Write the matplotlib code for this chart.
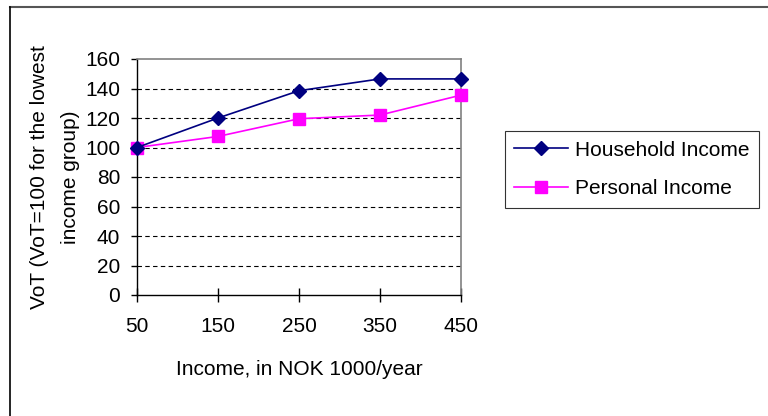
import matplotlib.pyplot as plt
from matplotlib.lines import Line2D

plt.rcParams['font.family'] = ['Liberation Sans', 'DejaVu Sans']

# Income groups (NOK 1000/year) and relative value of time
income = ['50', '150', '250', '350', '450']
household = [100, 120, 138.5, 146.5, 146.5]
personal = [100, 107.5, 119.5, 122, 135.5]
y_ticks = [0, 20, 40, 60, 80, 100, 120, 140, 160]

fig = plt.figure(figsize=(7.68, 4.16), dpi=100)
ax = fig.add_axes([137 / 768, 1 - 295 / 416, 324 / 768, 236 / 416])

x = list(range(len(income)))
ax.plot(x, household, color='#000080', lw=1.2, marker='D', ms=7.5,
        label='Household Income', clip_on=False, zorder=4)
ax.plot(x, personal, color='#FF00FF', lw=1.2, marker='s', ms=9,
        label='Personal Income', clip_on=False, zorder=3)

ax.set_xlim(0, 4)
ax.set_ylim(0, 160)
ax.set_xticks(x)
ax.set_xticklabels(income)
ax.set_yticks(y_ticks)

# dashed horizontal gridlines, Excel style
for v in y_ticks[1:-1]:
    ax.axhline(v, color='black', lw=0.8, dashes=(4, 3), zorder=1)

for s in ['top', 'right']:
    ax.spines[s].set_color('#808080')
    ax.spines[s].set_linewidth(1.2)
for s in ['left', 'bottom']:
    ax.spines[s].set_color('black')
    ax.spines[s].set_linewidth(1.0)

ax.tick_params(axis='x', direction='inout', length=10, width=1, pad=11, labelsize=15)
ax.tick_params(axis='y', direction='out', length=4, width=1, pad=8, labelsize=15)

ax.set_xlabel('Income, in NOK 1000/year', fontsize=15, labelpad=17)
ax.set_ylabel('VoT (VoT=100 for the lowest\nincome group)', fontsize=15,
              labelpad=4, linespacing=1.8)

leg = fig.legend(loc='center', bbox_to_anchor=(632 / 768, 1 - 169.5 / 416),
                 fontsize=15, frameon=True, fancybox=False, edgecolor='black',
                 handlelength=2.6, handletextpad=0.35, labelspacing=0.95,
                 borderpad=0.45)
leg.get_frame().set_linewidth(0.8)

# outer chart frame (cut off at right and bottom)
fig.add_artist(Line2D([9.5 / 768, 1], [1 - 7 / 416, 1 - 7 / 416],
                      transform=fig.transFigure, color='#555555', lw=1.5))
fig.add_artist(Line2D([9.5 / 768, 9.5 / 768], [0, 1 - 7 / 416],
                      transform=fig.transFigure, color='black', lw=1.2))

fig.savefig('out.png', dpi=100)
